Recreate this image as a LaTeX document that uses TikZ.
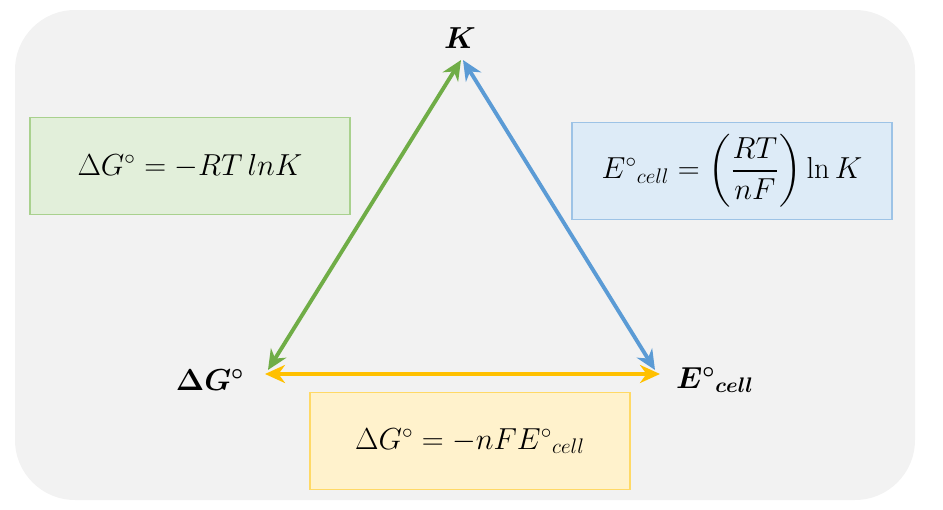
\documentclass[tikz,border=0pt]{standalone}
\usepackage{amsmath}
\usetikzlibrary{arrows.meta, positioning}
\definecolor{bggray}{HTML}{F2F2F2}
\definecolor{grnfill}{HTML}{E2EFDA}
\definecolor{grnline}{HTML}{A9D18E}
\definecolor{grnarrow}{HTML}{70AD47}
\definecolor{blufill}{HTML}{DDEBF7}
\definecolor{bluline}{HTML}{9DC3E6}
\definecolor{bluarrow}{HTML}{5B9BD5}
\definecolor{yelfill}{HTML}{FFF2CC}
\definecolor{yelline}{HTML}{FFD966}
\definecolor{yelarrow}{HTML}{FFC000}
\begin{document}
\begin{tikzpicture}[x=0.2mm, y=-0.2mm,
    % formula boxes
    eqbox/.style={rectangle, draw, line width=0.6pt, minimum width=64mm, minimum height=19.4mm,
        font=\fontsize{17}{20}\selectfont},
    % corner labels
    vertex/.style={font=\fontsize{18}{21}\selectfont\bfseries},
    % double-headed arrows
    link/.style={{Stealth[length=4mm, width=3.6mm]}-{Stealth[length=4mm, width=3.6mm]}, line width=2.2pt}
]
    \useasboundingbox (0,0) rectangle (943,510);
    \fill[bggray, rounded corners=12mm] (15,10) rectangle (915,500);

    % corner labels
    \node[vertex] (K) at (460,38) {$\boldsymbol{K}$};
    \node[vertex] (dG) at (210,380) {$\boldsymbol{\Delta G^\circ}$};
    \node[vertex] (Ecell) at (715,380) {$\boldsymbol{E^\circ{}_{cell}}$};

    % arrow ends
    \coordinate (kL) at (461,60);
    \coordinate (kR) at (463,60);
    \coordinate (gT) at (268,370);
    \coordinate (gR) at (265,374);
    \coordinate (eT) at (655,370);
    \coordinate (eL) at (660,374);

    % formula boxes
    \node[eqbox, fill=grnfill, draw=grnline] (eqG) at (190,166) {$\Delta G^\circ = -RT\,lnK$};
    \node[eqbox, fill=blufill, draw=bluline] (eqE) at (732,171) {$E^\circ{}_{cell} = \left(\dfrac{RT}{nF}\right)\ln K$};
    \node[eqbox, fill=yelfill, draw=yelline] (eqN) at (470,441) {$\Delta G^\circ = -nFE^\circ{}_{cell}$};

    % relations
    \draw[link, grnarrow] (gT) -- (kL);
    \draw[link, bluarrow] (kR) -- (eT);
    \draw[link, yelarrow] (gR) -- (eL);
\end{tikzpicture}
\end{document}
